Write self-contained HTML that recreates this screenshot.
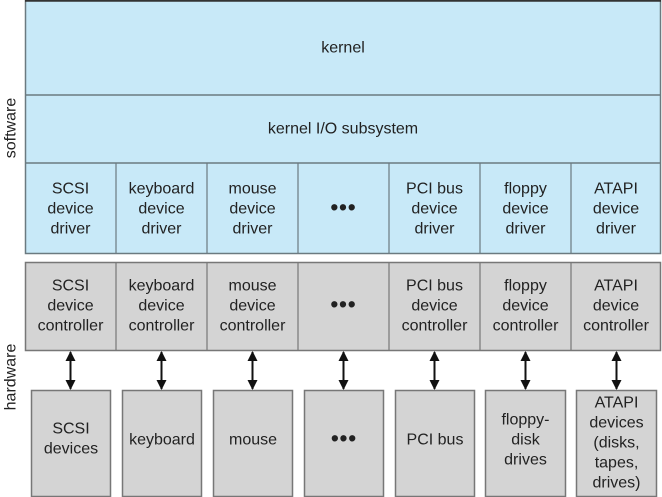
<!DOCTYPE html>
<html><head><meta charset="utf-8"><style>
html,body{margin:0;padding:0;background:#fff}
svg{display:block}
text{font-family:"Liberation Sans",Arial,sans-serif;font-size:16px;fill:#222;text-anchor:middle;dominant-baseline:central}
</style></head><body>
<svg width="662" height="497" viewBox="0 0 662 497" xmlns="http://www.w3.org/2000/svg">
<defs>
<marker id="a" viewBox="0 0 10 10" refX="9" refY="5" markerWidth="5" markerHeight="5" orient="auto-start-reverse"><path d="M0,0 L10,5 L0,10 z" fill="#111"/></marker>
</defs>
<!-- software -->
<rect x="25.5" y="0.5" width="635" height="253" fill="#c8e9f8" stroke="#6b7a80" stroke-width="1.5"/>
<line x1="25" y1="0.8" x2="661" y2="0.8" stroke="#333" stroke-width="2"/>
<line x1="25" y1="95" x2="661" y2="95" stroke="#6b7a80" stroke-width="1.5"/>
<line x1="25" y1="163" x2="661" y2="163" stroke="#6b7a80" stroke-width="1.5"/>
<g stroke="#6b7a80" stroke-width="1.2">
<line x1="116" y1="163" x2="116" y2="253"/><line x1="207" y1="163" x2="207" y2="253"/><line x1="298" y1="163" x2="298" y2="253"/><line x1="389" y1="163" x2="389" y2="253"/><line x1="480" y1="163" x2="480" y2="253"/><line x1="571" y1="163" x2="571" y2="253"/>
</g>
<text x="343" y="48">kernel</text>
<text x="343" y="129">kernel I/O subsystem</text>
<!-- hardware controllers -->
<rect x="25.5" y="262.5" width="635" height="88" fill="#d4d4d4" stroke="#777" stroke-width="1.5"/>
<g stroke="#777" stroke-width="1.2">
<line x1="116" y1="262" x2="116" y2="350"/><line x1="207" y1="262" x2="207" y2="350"/><line x1="298" y1="262" x2="298" y2="350"/><line x1="389" y1="262" x2="389" y2="350"/><line x1="480" y1="262" x2="480" y2="350"/><line x1="571" y1="262" x2="571" y2="350"/>
</g>
<!-- device boxes -->
<g fill="#d4d4d4" stroke="#777" stroke-width="1.5">
<rect x="31.5" y="390.5" width="79" height="106"/>
<rect x="122.5" y="390.5" width="79" height="106"/>
<rect x="213.5" y="390.5" width="79" height="106"/>
<rect x="304.5" y="390.5" width="79" height="106"/>
<rect x="395.5" y="390.5" width="79" height="106"/>
<rect x="485.5" y="390.5" width="80" height="106"/>
<rect x="576.5" y="390.5" width="80" height="106"/>
</g>
<!-- arrows -->
<g stroke="#111" stroke-width="2" marker-start="url(#a)" marker-end="url(#a)">
<line x1="70.5" y1="352" x2="70.5" y2="389"/>
<line x1="161.5" y1="352" x2="161.5" y2="389"/>
<line x1="252.5" y1="352" x2="252.5" y2="389"/>
<line x1="343.5" y1="352" x2="343.5" y2="389"/>
<line x1="434.5" y1="352" x2="434.5" y2="389"/>
<line x1="525.5" y1="352" x2="525.5" y2="389"/>
<line x1="616.5" y1="352" x2="616.5" y2="389"/>
</g>
<!-- side labels -->
<text transform="translate(11,128) rotate(-90)">software</text>
<text transform="translate(11,377) rotate(-90)">hardware</text>
<!-- driver labels -->
<g>
<text x="70.5" y="189">SCSI</text><text x="70.5" y="209">device</text><text x="70.5" y="229">driver</text>
<text x="161.5" y="189">keyboard</text><text x="161.5" y="209">device</text><text x="161.5" y="229">driver</text>
<text x="252.5" y="189">mouse</text><text x="252.5" y="209">device</text><text x="252.5" y="229">driver</text>
<text x="343.5" y="207" style="font-size:22px;font-weight:bold;letter-spacing:1px">•••</text>
<text x="434.5" y="189">PCI bus</text><text x="434.5" y="209">device</text><text x="434.5" y="229">driver</text>
<text x="525.5" y="189">floppy</text><text x="525.5" y="209">device</text><text x="525.5" y="229">driver</text>
<text x="616" y="189">ATAPI</text><text x="616" y="209">device</text><text x="616" y="229">driver</text>
</g>
<!-- controller labels -->
<g>
<text x="70.5" y="286">SCSI</text><text x="70.5" y="306">device</text><text x="70.5" y="326">controller</text>
<text x="161.5" y="286">keyboard</text><text x="161.5" y="306">device</text><text x="161.5" y="326">controller</text>
<text x="252.5" y="286">mouse</text><text x="252.5" y="306">device</text><text x="252.5" y="326">controller</text>
<text x="343.5" y="304" style="font-size:22px;font-weight:bold;letter-spacing:1px">•••</text>
<text x="434.5" y="286">PCI bus</text><text x="434.5" y="306">device</text><text x="434.5" y="326">controller</text>
<text x="525.5" y="286">floppy</text><text x="525.5" y="306">device</text><text x="525.5" y="326">controller</text>
<text x="616" y="286">ATAPI</text><text x="616" y="306">device</text><text x="616" y="326">controller</text>
</g>
<!-- device labels -->
<g>
<text x="71" y="429">SCSI</text><text x="71" y="449">devices</text>
<text x="162" y="440">keyboard</text>
<text x="253" y="440">mouse</text>
<text x="344" y="438" style="font-size:22px;font-weight:bold;letter-spacing:1px">•••</text>
<text x="435" y="440">PCI bus</text>
<text x="525.5" y="420">floppy-</text><text x="525.5" y="440">disk</text><text x="525.5" y="460">drives</text>
<text x="616.5" y="403">ATAPI</text><text x="616.5" y="423">devices</text><text x="616.5" y="443">(disks,</text><text x="616.5" y="463">tapes,</text><text x="616.5" y="483">drives)</text>
</g>
</svg>
</body></html>
